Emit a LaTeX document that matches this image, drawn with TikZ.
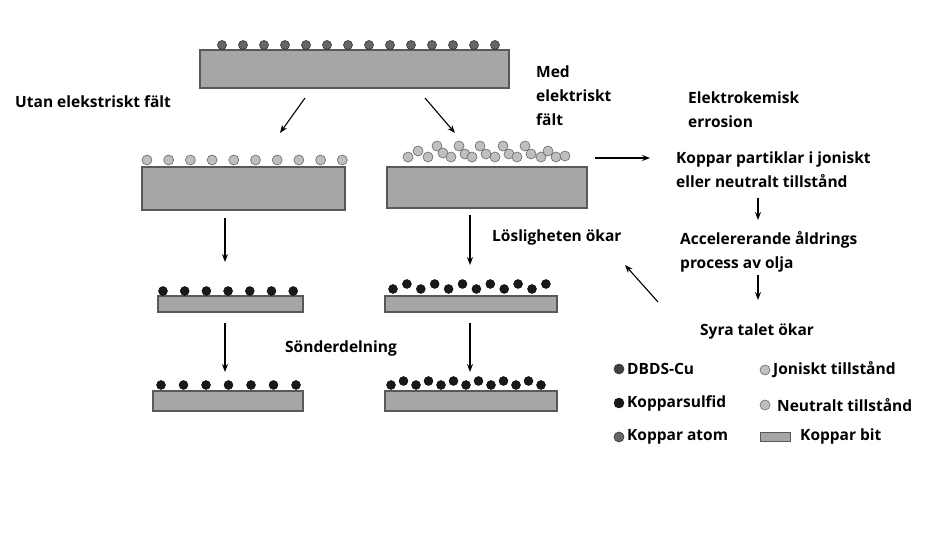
\documentclass[tikz,border=0pt]{standalone}
\usepackage{fontspec}
\setmainfont{Open Sans}
\usetikzlibrary{arrows.meta}
\begin{document}
\begin{tikzpicture}[x=1pt,y=-1pt,
  bit/.style={draw=black!65,fill=black!35,line width=1.2pt},
  atom/.style={circle,draw=black!80,fill=black!60,line width=0.6pt,inner sep=0pt,minimum size=9pt},
  sulf/.style={circle,draw=black,fill=black!90,inner sep=0pt,minimum size=9pt},
  ion/.style={circle,draw=black!60,fill=black!25,line width=0.6pt,inner sep=0pt,minimum size=10pt},
  txt/.style={font=\bfseries\fontsize{15.5}{24}\selectfont,align=left,anchor=west,inner sep=0pt},
  arr/.style={-{Stealth[length=8pt,width=6pt]},line width=1.1pt}]
\useasboundingbox (0,0) rectangle (951,534);
% blocks
\draw[bit] (200,50) rectangle (509,88);
\draw[bit] (142,167) rectangle (345,210);
\draw[bit] (387,167) rectangle (587,208);
\draw[bit] (158,296) rectangle (303,312);
\draw[bit] (385,296) rectangle (557,312);
\draw[bit] (153,391) rectangle (303,411);
\draw[bit] (385,391) rectangle (557,411);
% particles
\foreach \i in {0,...,13} \node[atom] at (222+21*\i,45) {};
\foreach \i in {0,...,9} \node[ion] at (147+21.7*\i,160) {};
\foreach \x/\y in {408/157,418/151,428/157,437/146,443/153,451/157,459/146,465/154,472/157,480/146,486/154,495/157,503/146,509/154,517/157,525/146,531/154,541/157,548/151,556/157,565/156}
  \node[ion] at (\x,\y) {};
\foreach \i in {0,...,6} \node[sulf] at (163+21.7*\i,291) {};
\foreach \i in {0,...,11} \node[sulf] at (393+13.9*\i,{\i/2==int(\i/2) ? 289 : 284}) {};
\foreach \i in {0,...,6} \node[sulf] at (161+22.5*\i,385) {};
\foreach \i in {0,...,12} \node[sulf] at (391+12.5*\i,{\i/2==int(\i/2) ? 385 : 381}) {};
% arrows
\coordinate (a1) at (305,98); \coordinate (a2) at (280,133);
\coordinate (b1) at (425,98); \coordinate (b2) at (455,133);
\draw[arr] (a1) -- (a2);
\draw[arr] (b1) -- (b2);
\draw[arr] (225,218) -- (225,262);
\draw[arr] (470,215) -- (470,265);
\draw[arr] (225,323) -- (225,372);
\draw[arr] (470,323) -- (470,372);
\draw[arr] (595,158) -- (650,158);
\draw[arr] (758,198) -- (758,220);
\draw[arr] (758,275) -- (758,300);
\draw[arr] (658,302) -- (625,265);
% texts
\node[txt] (utan) at (15,102) {Utan elekstriskt fält};
\node[txt] (med) at (536,96) {Med\\elektriskt\\fält};
\node[txt] (erosion) at (688,110) {Elektrokemisk\\errosion};
\node[txt] (koppar) at (676,170) {Koppar partiklar i joniskt\\eller neutralt tillstånd};
\node[txt] (los) at (492,237) {Lösligheten ökar};
\node[txt] (acc) at (680,252) {Accelererande åldrings\\process av olja};
\node[txt] (syra) at (700,331) {Syra talet ökar};
\node[txt] (sond) at (285,348) {Sönderdelning};
% legend
\node[atom,draw=black!80,fill=black!75,minimum size=10pt] (l1) at (619,369) {};
\node[txt,right=8pt] at (l1) {DBDS-Cu};
\node[sulf,minimum size=10pt] (l2) at (619,403) {};
\node[txt,right=8pt] at (l2) {Kopparsulfid};
\node[atom,minimum size=10pt] (l3) at (619,437) {};
\node[txt,right=8pt] at (l3) {Koppar atom};
\node[ion] (l4) at (765,370) {};
\node[txt,right=8pt] at (l4) {Joniskt tillstånd};
\node[ion] (l5) at (765,405) {};
\node[txt,right=12pt] at (l5) {Neutralt tillstånd};
\draw[bit,line width=0.8pt] (760,432) rectangle (790,441);
\node[txt] (l6) at (800,436) {Koppar bit};
\end{tikzpicture}
\end{document}
